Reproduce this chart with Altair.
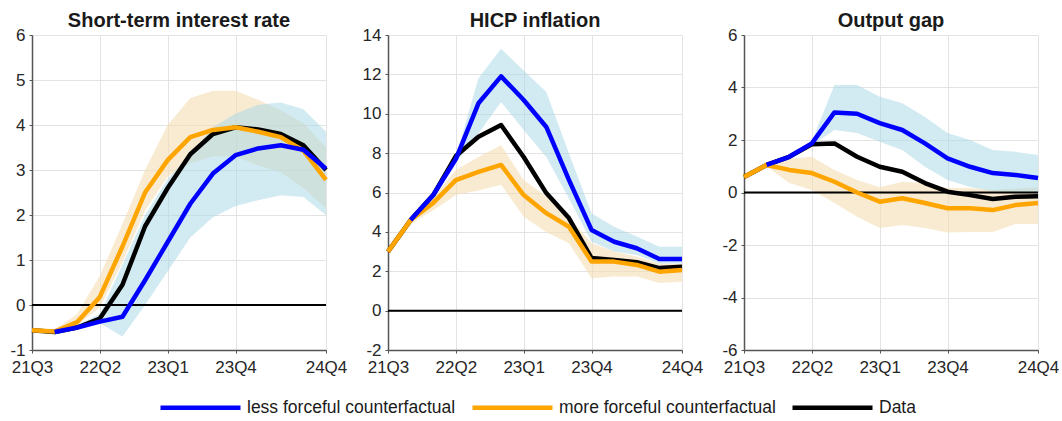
import altair as alt
import pandas as pd

# Quarterly horizon shared by all three panels
quarters = ["21Q3", "21Q4", "22Q1", "22Q2", "22Q3", "22Q4", "23Q1",
            "23Q2", "23Q3", "23Q4", "24Q1", "24Q2", "24Q3", "24Q4"]
tick_idx = [0, 3, 6, 9, 13]

series_names = ["less forceful counterfactual", "more forceful counterfactual", "Data"]
series_colors = ["#0000ff", "#ffa500", "#000000"]
series_widths = [4.5, 4.5, 2.7]

# Short-term interest rate
rate_less = [None, -0.6, -0.5, -0.37, -0.26, 0.55, 1.4, 2.25, 2.92, 3.33, 3.48, 3.55, 3.45, 3.03]
rate_more = [-0.56, -0.59, -0.38, 0.18, 1.3, 2.5, 3.22, 3.73, 3.89, 3.95, 3.85, 3.73, 3.43, 2.78]
rate_data = [-0.56, -0.6, -0.5, -0.3, 0.45, 1.75, 2.6, 3.35, 3.8, 3.95, 3.9, 3.8, 3.55, 3.0]
rate_less_lo = [None, -0.6, -0.55, -0.4, -0.7, 0.0, 0.75, 1.5, 1.95, 2.2, 2.33, 2.44, 2.4, 2.0]
rate_less_hi = [None, -0.6, -0.45, -0.2, 0.9, 2.0, 2.8, 3.35, 3.95, 4.25, 4.45, 4.5, 4.35, 3.85]
rate_more_lo = [-0.56, -0.6, -0.45, -0.05, 0.95, 2.1, 2.85, 3.15, 3.3, 3.3, 3.1, 2.95, 2.6, 2.15]
rate_more_hi = [-0.56, -0.55, -0.2, 0.65, 1.8, 3.0, 4.0, 4.6, 4.76, 4.76, 4.56, 4.33, 4.04, 3.5]

# HICP inflation
infl_less = [None, 4.6, 5.87, 7.7, 10.53, 11.9, 10.7, 9.33, 6.64, 4.1, 3.5, 3.17, 2.62, 2.62]
infl_more = [3.0, 4.6, 5.47, 6.63, 7.05, 7.4, 5.87, 4.95, 4.26, 2.49, 2.49, 2.32, 1.98, 2.06]
infl_data = [3.0, 4.6, 5.87, 7.85, 8.83, 9.43, 7.8, 5.97, 4.7, 2.67, 2.57, 2.46, 2.16, 2.23]
infl_less_lo = [None, 4.6, 5.8, 7.5, 9.0, 10.6, 9.17, 7.8, 5.7, 3.5, 3.0, 2.83, 2.4, 2.4]
infl_less_hi = [None, 4.6, 5.95, 7.8, 11.8, 13.3, 12.2, 11.1, 8.0, 4.95, 4.26, 3.76, 3.25, 3.25]
infl_more_lo = [3.0, 4.4, 5.1, 5.87, 6.1, 6.4, 4.77, 4.0, 3.42, 1.65, 1.73, 1.73, 1.4, 1.47]
infl_more_hi = [3.0, 4.7, 5.8, 7.14, 7.8, 8.4, 6.63, 5.8, 4.77, 3.42, 3.0, 2.74, 2.4, 2.35]

# Output gap
gap_less = [None, 1.05, 1.36, 1.87, 3.05, 3.0, 2.64, 2.38, 1.87, 1.3, 0.98, 0.74, 0.67, 0.55]
gap_more = [0.59, 1.05, 0.86, 0.74, 0.41, 0.0, -0.35, -0.22, -0.4, -0.6, -0.6, -0.67, -0.48, -0.4]
gap_data = [0.59, 1.05, 1.36, 1.84, 1.87, 1.36, 0.98, 0.79, 0.36, 0.03, -0.1, -0.25, -0.16, -0.14]
gap_less_lo = [None, 1.05, 1.3, 1.8, 2.38, 2.27, 1.93, 1.62, 0.98, 0.48, 0.21, 0.05, 0.0, -0.05]
gap_less_hi = [None, 1.05, 1.4, 1.95, 4.1, 4.1, 3.65, 3.4, 2.88, 2.27, 2.0, 1.62, 1.55, 1.43]
gap_more_lo = [0.59, 1.0, 0.36, 0.1, -0.4, -0.92, -1.35, -1.24, -1.35, -1.52, -1.5, -1.5, -1.2, -1.2]
gap_more_hi = [0.59, 1.05, 1.3, 1.36, 0.86, 0.48, 0.2, 0.41, 0.36, 0.17, 0.17, 0.1, 0.15, 0.2]

FONT = "Liberation Sans"
label_expr = "[" + ",".join("'%s'" % q for q in quarters) + "][datum.value]"

color_scale = alt.Scale(domain=series_names, range=series_colors)
width_scale = alt.Scale(domain=series_names, range=series_widths)


def frame(values, name):
    rows = [{"q": i, "series": name, "v": v} for i, v in enumerate(values) if v is not None]
    return pd.DataFrame(rows)


def band(lo, hi):
    rows = [{"q": i, "lo": a, "hi": b} for i, (a, b) in enumerate(zip(lo, hi)) if a is not None]
    return pd.DataFrame(rows)


def panel(title, less, more, data, less_lo, less_hi, more_lo, more_hi, ymin, ymax, ystep):
    xscale = alt.Scale(domain=[0, 13], nice=False, zero=False)
    xaxis = alt.Axis(values=tick_idx, labelExpr=label_expr, title=None,
                     labelFlush=False, labelOverlap=False, labelPadding=6)
    x = alt.X("q:Q", scale=xscale, axis=xaxis)
    yscale = alt.Scale(domain=[ymin, ymax], nice=False, zero=False)
    # plain hyphen for negative tick labels
    yaxis = alt.Axis(values=list(range(ymin, ymax + 1, ystep)), title=None,
                     labelExpr="'' + datum.value", labelOverlap=False, labelFlush=False)

    more_band = alt.Chart(band(more_lo, more_hi)).mark_area(
        color="#f5deb3", opacity=0.6).encode(
        x=x, y=alt.Y("lo:Q", scale=yscale, axis=yaxis), y2="hi:Q")
    less_band = alt.Chart(band(less_lo, less_hi)).mark_area(
        color="#add8e6", opacity=0.55).encode(
        x=x, y=alt.Y("lo:Q", scale=yscale, axis=yaxis), y2="hi:Q")
    zero = alt.Chart(pd.DataFrame({"a": [0], "b": [13], "z": [0]})).mark_rule(
        color="black", strokeWidth=2).encode(
        x=alt.X("a:Q", scale=xscale, axis=xaxis),
        x2="b:Q", y=alt.Y("z:Q", scale=yscale, axis=yaxis))

    def line(values, name):
        return alt.Chart(frame(values, name)).mark_line(strokeJoin="round").encode(
            x=x,
            y=alt.Y("v:Q", scale=yscale, axis=yaxis),
            color=alt.Color("series:N", scale=color_scale, legend=alt.Legend(title=None)),
            strokeWidth=alt.StrokeWidth("series:N", scale=width_scale, legend=alt.Legend(title=None)),
        )

    return alt.layer(
        more_band, less_band, zero,
        line(data, "Data"),
        line(more, "more forceful counterfactual"),
        line(less, "less forceful counterfactual"),
    ).properties(
        width=294, height=315,
        title=alt.Title(title, offset=-5),
    )


p1 = panel("Short-term interest rate", rate_less, rate_more, rate_data,
           rate_less_lo, rate_less_hi, rate_more_lo, rate_more_hi, -1, 6, 1)
p2 = panel("HICP inflation", infl_less, infl_more, infl_data,
           infl_less_lo, infl_less_hi, infl_more_lo, infl_more_hi, -2, 14, 2)
p3 = panel("Output gap", gap_less, gap_more, gap_data,
           gap_less_lo, gap_less_hi, gap_more_lo, gap_more_hi, -6, 6, 2)

chart = alt.hconcat(p1, p2, p3, spacing=62, bounds="flush").resolve_scale(
    y="independent", x="independent", color="shared", strokeWidth="shared"
).properties(
    padding={"left": 9, "top": 11, "right": 0, "bottom": 0},
    background="white",
).configure_view(stroke=None).configure_axis(
    labelFont=FONT, labelFontSize=17, labelColor="#262626",
    domainColor="#555555", domainWidth=1.5,
    gridColor="#e3e3e3", gridWidth=1,
    tickColor="#555555", tickSize=3, labelPadding=4,
    labelOverlap=False,
).configure_title(
    font=FONT, fontSize=20, fontWeight="bold", color="#1a1a1a",
).configure_legend(
    orient="none", legendX=126, legendY=330, direction="horizontal",
    symbolType="stroke", symbolSize=6400, labelFont=FONT, labelFontSize=17.5,
    labelColor="#1a1a1a", labelOffset=4, columnPadding=7, padding=0,
    labelLimit=0,
)

chart.save("out.html", embed_options={"renderer": "svg", "actions": False})
